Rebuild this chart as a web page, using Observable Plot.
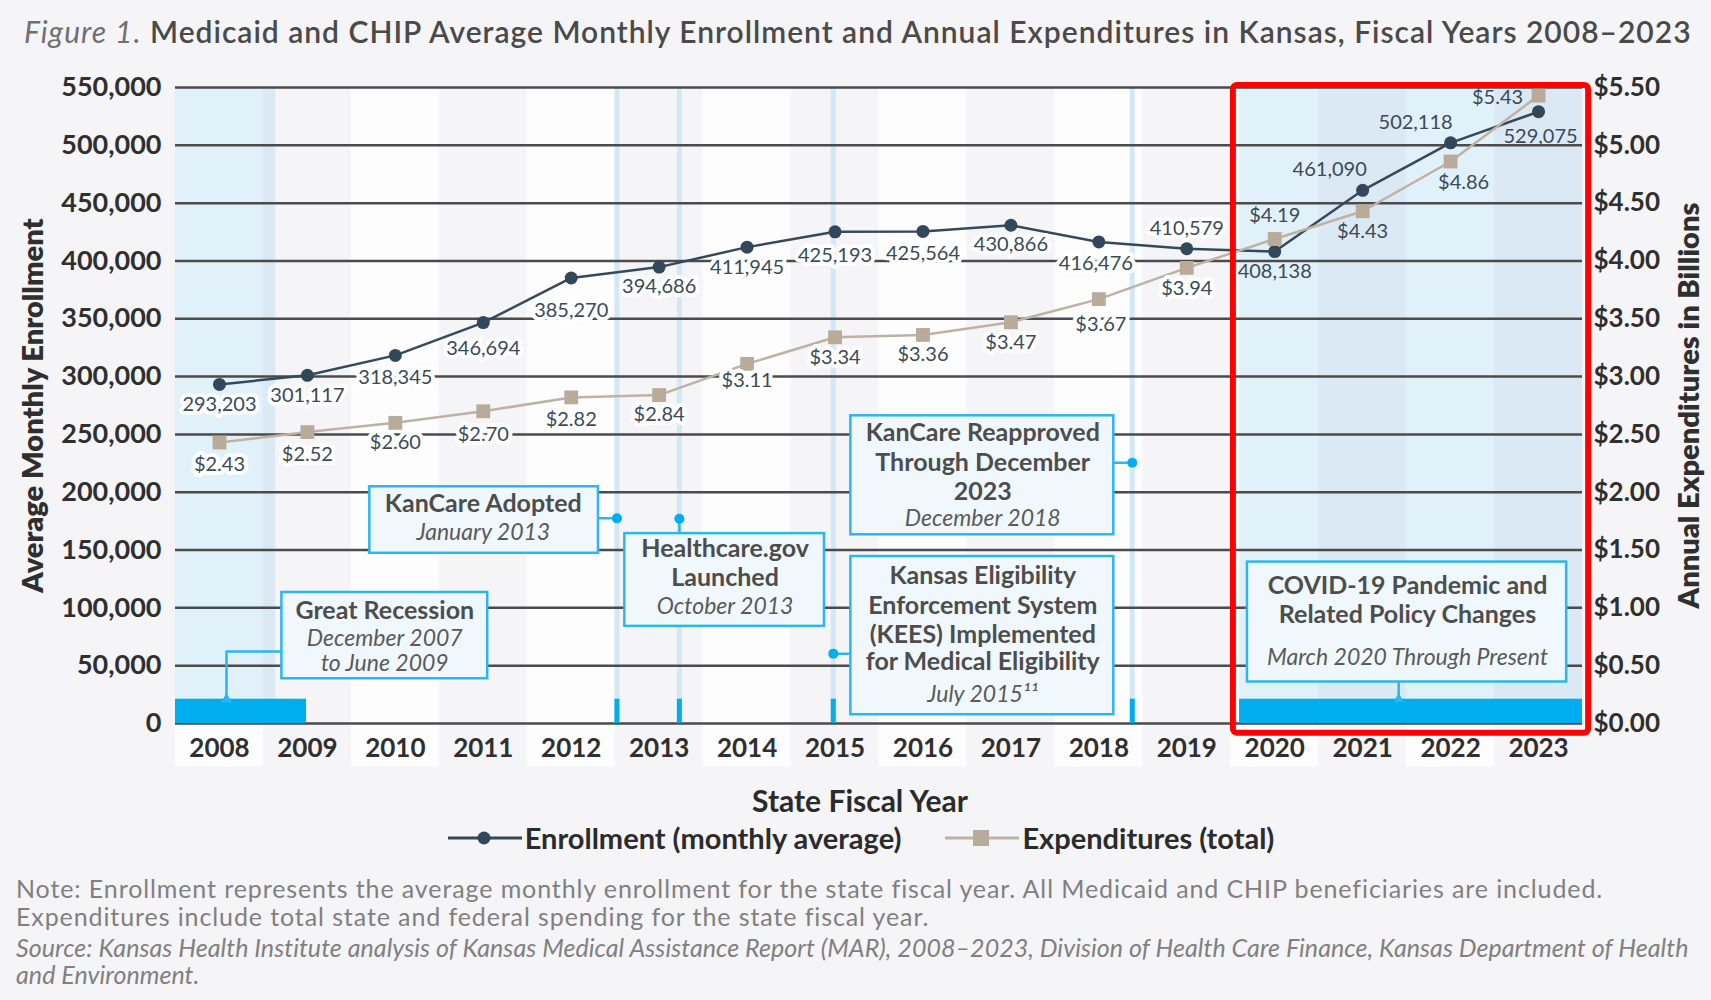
<!DOCTYPE html>
<html><head><meta charset="utf-8">
<script src="https://cdn.jsdelivr.net/npm/d3@7"></script>
<script src="https://cdn.jsdelivr.net/npm/@observablehq/plot@0.6"></script>
<style>
body{margin:0;background:#f5f4f7;font-family:Lato,"Noto Sans",sans-serif;}
#wrap{position:relative;width:1711px;height:1000px;overflow:hidden;background:#f5f4f7;}
#title{position:absolute;left:24px;top:13px;font-size:30px;letter-spacing:1px;font-weight:600;color:#4a4a4a;white-space:nowrap;}
#title i{font-weight:400;color:#707070;}
#chart{position:absolute;left:0;top:60px;}
#xlabel{position:absolute;left:0;top:782px;width:1720px;text-align:center;font-size:30px;font-weight:700;color:#2b2b2b;}
#legend{position:absolute;left:0;top:820px;width:1722px;display:flex;justify-content:center;align-items:center;font-size:29px;font-weight:700;color:#2b2b2b;}
#legend .item{display:flex;align-items:center;margin:0 22px;}
#legend svg{margin-right:3px;}
#note{position:absolute;left:16px;top:875px;font-size:25px;letter-spacing:0.9px;line-height:27.5px;color:#808080;white-space:nowrap;}
#note .src{font-style:italic;letter-spacing:0.05px;margin-top:4px;line-height:27px;}
</style></head>
<body><div id="wrap">
<div id="title"><i>Figure 1.</i> Medicaid and CHIP Average Monthly Enrollment and Annual Expenditures in Kansas, Fiscal Years 2008–2023</div>
<div id="chart"></div>
<div id="xlabel">State Fiscal Year</div>
<div id="legend"></div>
<div id="note">
<div>Note: Enrollment represents the average monthly enrollment for the state fiscal year. All Medicaid and CHIP beneficiaries are included.<br>Expenditures include total state and federal spending for the state fiscal year.</div>
<div class="src">Source: Kansas Health Institute analysis of Kansas Medical Assistance Report (MAR), 2008–2023, Division of Health Care Finance, Kansas Department of Health<br>and Environment.</div>
</div>
</div>
<script>
// ---------------- DATA ----------------
const years = [2008, 2009, 2010, 2011, 2012, 2013, 2014, 2015, 2016, 2017, 2018, 2019, 2020, 2021, 2022, 2023];
const enrollment = [293203, 301117, 318345, 346694, 385270, 394686, 411945, 425193, 425564, 430866, 416476, 410579, 408138, 461090, 502118, 529075];
const expenditures = [2.43, 2.52, 2.60, 2.70, 2.82, 2.84, 3.11, 3.34, 3.36, 3.47, 3.67, 3.94, 4.19, 4.43, 4.86, 5.43]; // billions
const enrollmentTicks = [0, 50000, 100000, 150000, 200000, 250000, 300000, 350000, 400000, 450000, 500000, 550000];
const expenditureTickLabels = ["$0.00", "$0.50", "$1.00", "$1.50", "$2.00", "$2.50", "$3.00", "$3.50", "$4.00", "$4.50", "$5.00", "$5.50"];
const seriesNames = ["Enrollment (monthly average)", "Expenditures (total)"];

// events (x in fiscal-year units as drawn)
const eventNames = ["KanCare Adopted", "Healthcare.gov Launched", "KEES Implemented", "KanCare Reapproved"];
const eventX = [2012.52, 2013.23, 2014.98, 2018.38];
// periods
const periodNames = ["Great Recession", "COVID-19"];
const periodStart = [2007.5, 2019.60];
const periodEnd = [2008.99, 2023.5];

// ---------------- LAYOUT / STYLE ----------------
const BILLION_TO_AXIS = 100000; // $5.50 aligns with 550,000
const C = {
  enroll: "#36495b", enrollDot: "#33475a", exp: "#beb2a4", expDot: "#b9ab9a",
  grid: "#4b4b4b", blue: "#00aeef", boxStroke: "#2db6ee", boxFill: "#f0f8fd",
  label: "#3b4a57", shade: "#2aa6dc", eventLine: "#d2e9f5"
};
const enrollLabelOffset = {2008:[0,20],2009:[0,20],2010:[0,22],2011:[0,26],2012:[0,33],2013:[0,19],2014:[0,20],2015:[0,24],2016:[0,22],2017:[0,19],2018:[-3,22],2019:[0,-20],2020:[0,20],2021:[-33,-21],2022:[-35,-20],2023:[2,25]};
const expLabelOffset = {2008:[0,22],2009:[0,22],2010:[0,20],2011:[0,23],2012:[0,22],2013:[0,20],2014:[0,17],2015:[0,20],2016:[0,20],2017:[0,20],2018:[2,25],2019:[0,21],2020:[0,-23],2021:[0,20],2022:[13,21],2023:[-41,2]};

const enrollData = years.map((y, i) => ({year: y, value: enrollment[i], label: d3.format(",")(enrollment[i]), dx: enrollLabelOffset[y][0], dy: enrollLabelOffset[y][1]}));
const expData = years.map((y, i) => ({year: y, value: expenditures[i] * BILLION_TO_AXIS, label: "$" + expenditures[i].toFixed(2), dx: expLabelOffset[y][0], dy: expLabelOffset[y][1]}));
const rightLabel = new Map(enrollmentTicks.map((t, i) => [t, expenditureTickLabels[i]]));

const events = eventNames.map((n, i) => ({name: n, x: eventX[i]}));
const periods = periodNames.map((n, i) => ({name: n, x1: periodStart[i], x2: periodEnd[i]}));
const shades = [{x1: 2007.5, x2: 2008.64}, {x1: 2019.60, x2: 2023.5}];
const evenYears = years.filter(y => y % 2 === 0);

// annotation boxes
const boxes = [
  {x1: 2008.71, x2: 2011.05, y1: 38700, y2: 113300, cx: 2009.88,
   lines: [["Great Recession", 97200, "b"], ["December 2007", 73600, "i"], ["to June 2009", 52000, "i"]]},
  {x1: 2009.71, x2: 2012.31, y1: 147200, y2: 204700, cx: 2011.00,
   lines: [["KanCare Adopted", 189700, "b"], ["January 2013", 165100, "i"]]},
  {x1: 2012.61, x2: 2014.88, y1: 84000, y2: 164200, cx: 2013.75,
   lines: [["Healthcare.gov", 150900, "b"], ["Launched", 125500, "b"], ["October 2013", 101000, "i"]]},
  {x1: 2015.18, x2: 2018.17, y1: 163200, y2: 266100, cx: 2016.68,
   lines: [["KanCare Reapproved", 251000, "b"], ["Through December", 225500, "b"], ["2023", 200000, "b"], ["December 2018", 177400, "i"]]},
  {x1: 2015.18, x2: 2018.17, y1: 7600, y2: 144400, cx: 2016.68,
   lines: [["Kansas Eligibility", 127300, "b"], ["Enforcement System", 101900, "b"], ["(KEES) Implemented", 76400, "b"], ["for Medical Eligibility", 52800, "b"], ["July 2015¹¹", 24600, "i"]]},
  {x1: 2019.69, x2: 2023.32, y1: 35900, y2: 139600, cx: 2021.51,
   lines: [["COVID-19 Pandemic and", 118900, "b"], ["Related Policy Changes", 93400, "b"], ["March 2020 Through Present", 56600, "i"]]}
];
const boxLines = boxes.flatMap(b => b.lines.map(([t, y, k]) => ({x: b.cx, y, text: t, kind: k})));
const BAR_TOP = 21000;
const connectors = [
  {id: "rec", pts: [[2008.71, 62300], [2008.08, 62300], [2008.08, BAR_TOP]]},
  {id: "kan", pts: [[2012.31, 177400], [2012.52, 177400]]},
  {id: "hc", pts: [[2013.23, 164200], [2013.23, 177000]]},
  {id: "kees", pts: [[2015.18, 60400], [2014.98, 60400]]},
  {id: "reap", pts: [[2018.17, 225500], [2018.38, 225500]]},
  {id: "cov", pts: [[2021.41, 35900], [2021.41, BAR_TOP]]}
].flatMap(c => c.pts.map(([x, y]) => ({id: c.id, x, y})));
const connectorDots = [{x: 2012.52, y: 177400}, {x: 2013.23, y: 177000}, {x: 2014.98, y: 60400}, {x: 2018.38, y: 225500}];
const connectorTips = [{x: 2008.08, y: BAR_TOP}, {x: 2021.41, y: BAR_TOP}];
const highlight = [{x1: 2019.53, x2: 2023.57, y1: -8400, y2: 551800}];

const YMAX = 550000, LABEL_FLOOR = -37600;
const AX = "#2f2f2f";

// one text mark per value label (dx/dy are per-label constants)
const valueLabelMarks = [...enrollData, ...expData].map(d =>
  Plot.text([d], Object.assign({x: "year", y: "value", text: "label", dx: d.dx, dy: d.dy, fontSize: 20, fill: C.label, lineAnchor: "middle"},
    d.year < 2020 ? {stroke: "white", strokeWidth: 8, strokeLinejoin: "round", paintOrder: "stroke"} : {}))
);

const plot = Plot.plot({
  width: 1711, height: 715,
  marginTop: 27, marginBottom: 52, marginLeft: 175, marginRight: 129,
  style: {fontFamily: "Lato, 'Noto Sans', sans-serif", background: "transparent", overflow: "visible"},
  x: {domain: [2007.5, 2023.5]},
  y: {domain: [0, YMAX]},
  marks: [
    Plot.rect(evenYears, {x1: d => d - 0.5, x2: d => d + 0.5, y1: LABEL_FLOOR, y2: YMAX, fill: "#fdfdfe"}),
    Plot.rect(shades, {x1: "x1", x2: "x2", y1: 0, y2: YMAX, fill: C.shade, fillOpacity: 0.13}),
    Plot.ruleX(events, {x: "x", y1: 0, y2: YMAX, stroke: C.eventLine, strokeWidth: 5}),
    Plot.ruleY(enrollmentTicks, {stroke: C.grid, strokeWidth: 2.5}),
    Plot.rect(periods, {x1: "x1", x2: "x2", y1: 0, y2: BAR_TOP, fill: C.blue}),
    Plot.ruleX(events, {x: "x", y1: 0, y2: BAR_TOP, stroke: C.blue, strokeWidth: 5}),
    Plot.line(connectors, {x: "x", y: "y", z: "id", stroke: C.boxStroke, strokeWidth: 2.5}),
    Plot.dot(connectorDots, {x: "x", y: "y", r: 5, fill: C.blue}),
    Plot.dot(connectorTips, {x: "x", y: "y", r: 4, fill: C.boxStroke, symbol: "triangle"}),
    Plot.rect(boxes, {x1: "x1", x2: "x2", y1: "y1", y2: "y2", fill: C.boxFill, stroke: C.boxStroke, strokeWidth: 2.5}),
    Plot.text(boxLines.filter(d => d.kind === "b"), {x: "x", y: "y", text: "text", fontSize: 25, fontWeight: 700, fill: "#4d4d4d", lineAnchor: "middle"}),
    Plot.text(boxLines.filter(d => d.kind === "i"), {x: "x", y: "y", text: "text", fontSize: 23, fontStyle: "italic", fill: "#5a5a5a", lineAnchor: "middle"}),
    Plot.line(enrollData, {x: "year", y: "value", stroke: C.enroll, strokeWidth: 2.5}),
    Plot.dot(enrollData, {x: "year", y: "value", r: 6.5, fill: C.enrollDot}),
    Plot.line(expData, {x: "year", y: "value", stroke: C.exp, strokeWidth: 2.5}),
    Plot.dot(expData, {x: "year", y: "value", r: 7.8, symbol: "square", fill: C.expDot}),
    ...valueLabelMarks,
    Plot.rect(highlight, {x1: "x1", x2: "x2", y1: "y1", y2: "y2", fill: "none", stroke: "#ff0000", strokeWidth: 6, rx: 4}),
    Plot.axisY(enrollmentTicks, {anchor: "left", tickSize: 0, tickPadding: 14, tickFormat: d3.format(","), fontSize: 27, fontWeight: 700, color: AX, label: null}),
    Plot.axisY(enrollmentTicks, {anchor: "right", tickSize: 0, tickPadding: 11, tickFormat: d => rightLabel.get(d), fontSize: 26, fontWeight: 700, color: AX, label: null}),
    Plot.axisX(years, {tickSize: 0, tickPadding: 15, tickFormat: "d", fontSize: 26, fontWeight: 700, color: AX, label: null}),
    Plot.text(["Average Monthly Enrollment"], {frameAnchor: "left", dx: -142, rotate: -90, textAnchor: "middle", fontSize: 29, fontWeight: 800, fill: AX}),
    Plot.text(["Annual Expenditures in Billions"], {frameAnchor: "right", dx: 107, rotate: -90, textAnchor: "middle", fontSize: 29, fontWeight: 800, fill: AX})
  ]
});
document.getElementById("chart").appendChild(plot);

// legend
const lg = document.getElementById("legend");
const sw = [
  {name: seriesNames[0], stroke: C.enroll, mark: `<circle cx="36" cy="12" r="6.5" fill="${C.enrollDot}"/>`},
  {name: seriesNames[1], stroke: C.exp, mark: `<rect x="28" y="4" width="16" height="16" fill="${C.expDot}"/>`}
];
sw.forEach(s => {
  const it = document.createElement("div");
  it.className = "item";
  it.innerHTML = `<svg width="74" height="24"><line x1="0" x2="74" y1="12" y2="12" stroke="${s.stroke}" stroke-width="3"/>${s.mark}</svg><span>${s.name}</span>`;
  lg.appendChild(it);
});
</script>
</body></html>
